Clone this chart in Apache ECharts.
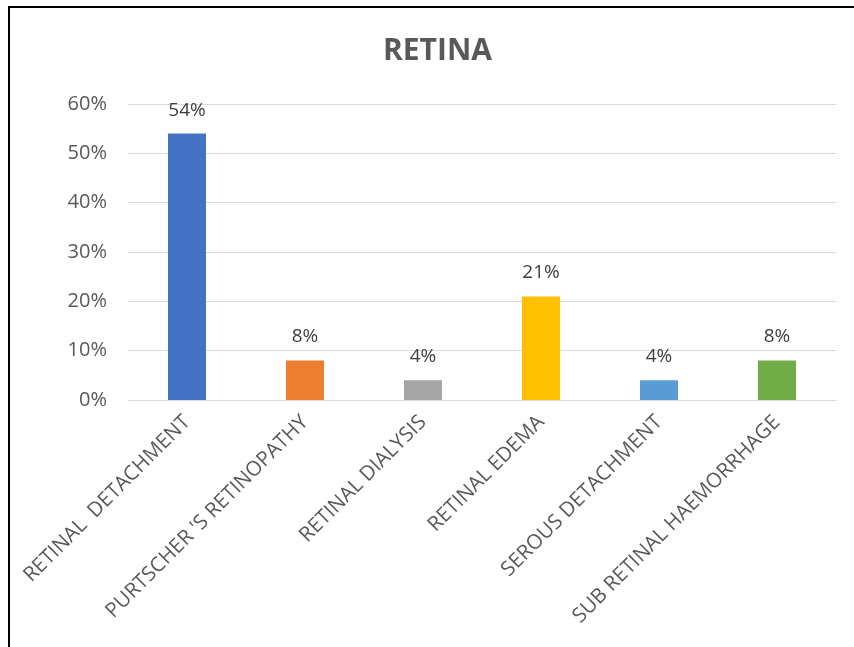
<!DOCTYPE html>
<html>
<head>
<meta charset="utf-8">
<script src="https://cdn.jsdelivr.net/npm/echarts@6/dist/echarts.min.js"></script>
<style>
  html, body { margin: 0; padding: 0; background: #ffffff; }
  #frame { position: absolute; left: 8px; top: 6px; width: 846px; height: 641px;
           border-top: 2px solid #000; border-left: 2px solid #000; box-sizing: border-box; }
  #chart { position: absolute; left: 0; top: 0; width: 854px; height: 647px; }
</style>
</head>
<body>
<div id="frame"></div>
<div id="chart"></div>
<script>
// Retinal findings, share of cases
const categories = [
  'RETINAL  DETACHMENT',
  "PURTSCHER 'S RETINOPATHY",
  'RETINAL DIALYSIS',
  'RETINAL EDEMA',
  'SEROUS DETACHMENT',
  'SUB RETINAL HAEMORRHAGE'
];
const values = [0.54, 0.08, 0.04, 0.21, 0.04, 0.08];
const barColors = ['#4472C4', '#ED7D31', '#A5A5A5', '#FFC000', '#5B9BD5', '#70AD47'];
const yTicks = [0, 0.1, 0.2, 0.3, 0.4, 0.5, 0.6];

const font = '"Open Sans", "Liberation Sans", sans-serif';
const chart = echarts.init(document.getElementById('chart'), null, { renderer: 'canvas' });

chart.setOption({
  animation: false,
  backgroundColor: 'transparent',
  title: {
    text: 'RETINA',
    left: 378,
    top: 31,
    textStyle: { fontFamily: font, fontSize: 30, fontWeight: 'bold', color: '#595959' }
  },
  grid: { left: 128, right: 18, top: 104, bottom: 247, containLabel: false },
  xAxis: {
    type: 'category',
    data: categories,
    axisLine: { show: true, lineStyle: { color: '#d9d9d9', width: 1 } },
    axisTick: { show: false },
    axisLabel: {
      interval: 0,
      rotate: 45,
      margin: 19,
      fontFamily: font,
      fontSize: 20.5,
      color: '#595959'
    }
  },
  yAxis: {
    type: 'value',
    min: yTicks[0],
    max: yTicks[yTicks.length - 1],
    interval: 0.1,
    axisLine: { show: false },
    axisTick: { show: false },
    splitLine: { lineStyle: { color: '#d9d9d9', width: 1 } },
    axisLabel: {
      margin: 21,
      fontFamily: font,
      fontSize: 20,
      color: '#595959',
      formatter: v => Math.round(v * 100) + '%'
    }
  },
  series: [{
    type: 'bar',
    barWidth: 38,
    data: values.map((v, i) => ({ value: v, itemStyle: { color: barColors[i] } })),
    label: {
      show: true,
      position: 'top',
      distance: 14,
      fontFamily: font,
      fontSize: 19,
      color: '#404040',
      formatter: p => Math.round(p.value * 100) + '%'
    }
  }]
});
</script>
</body>
</html>
